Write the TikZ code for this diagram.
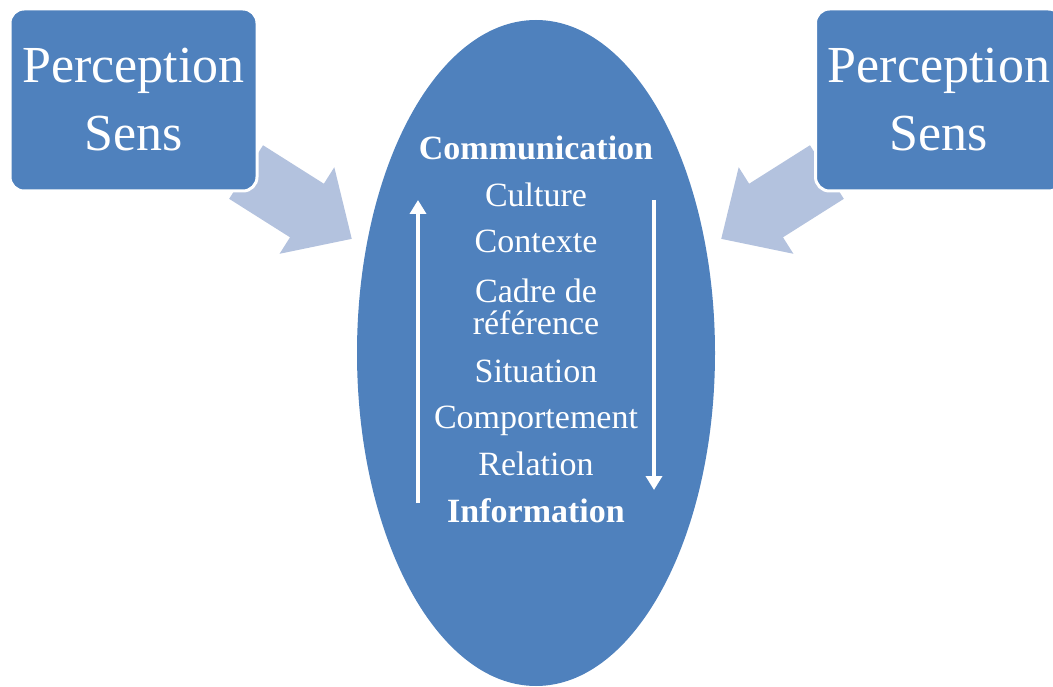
\documentclass[tikz,border=0pt]{standalone}
\usepackage{fontspec}
\setmainfont{Liberation Serif}
\usetikzlibrary{shapes.geometric,shapes.arrows,arrows.meta}
\definecolor{boxblue}{RGB}{79,129,189}
\definecolor{paleblue}{RGB}{179,194,222}
\tikzset{
  sensbox/.style={rectangle, rounded corners=14pt, fill=boxblue, draw=white,
    line width=3pt, minimum width=247pt, minimum height=182pt, text=white,
    align=center, font=\fontsize{52}{68}\selectfont},
  bigarrow/.style={single arrow, fill=paleblue, draw=none, anchor=tip,
    inner xsep=0pt, inner ysep=31.5pt, minimum height=125pt,
    single arrow head extend=19.5pt, single arrow tip angle=88},
  ellitem/.style={text=white, anchor=base, align=center,
    font=\fontsize{34}{32}\selectfont},
  elltitle/.style={ellitem, font=\bfseries\fontsize{34}{32}\selectfont},
  cyclearrow/.style={white, line width=4pt, -{Triangle[width=16pt,length=14pt]}}
}
\begin{document}
\begin{tikzpicture}[x=1pt,y=-1pt]
  \useasboundingbox (0,0) rectangle (1053,687);
  % arrows go under the boxes
  \node[bigarrow, rotate=-32.3] (leftarrow) at (352,239) {};
  \node[bigarrow, rotate=212.3] (rightarrow) at (721,239) {};
  \node[sensbox] (leftbox) at (133.5,100) {Perception\\Sens};
  \node[sensbox] (rightbox) at (939,100) {Perception\\Sens};
  \node[ellipse, fill=boxblue, inner sep=0pt,
    minimum width=358pt, minimum height=666pt] (oval) at (536,353) {};
  % texts of the oval
  \node[elltitle] (comm) at (536,160) {Communication};
  \node[ellitem] (culture) at (536,207) {Culture};
  \node[ellitem] (contexte) at (536,253) {Contexte};
  \node[ellitem, anchor=center] (cadre) at (536,306.5) {Cadre de\\référence};
  \node[ellitem] (situation) at (536,382) {Situation};
  \node[ellitem] (comport) at (536,428) {Comportement};
  \node[ellitem] (relation) at (536,475) {Relation};
  \node[elltitle] (info) at (536,522) {Information};
  % up and down
  \coordinate (upfoot) at (418,503);
  \coordinate (uphead) at (418,200);
  \coordinate (downfoot) at (654,200);
  \coordinate (downhead) at (654,490);
  \draw[cyclearrow] (upfoot) -- (uphead);
  \draw[cyclearrow] (downfoot) -- (downhead);
\end{tikzpicture}
\end{document}
